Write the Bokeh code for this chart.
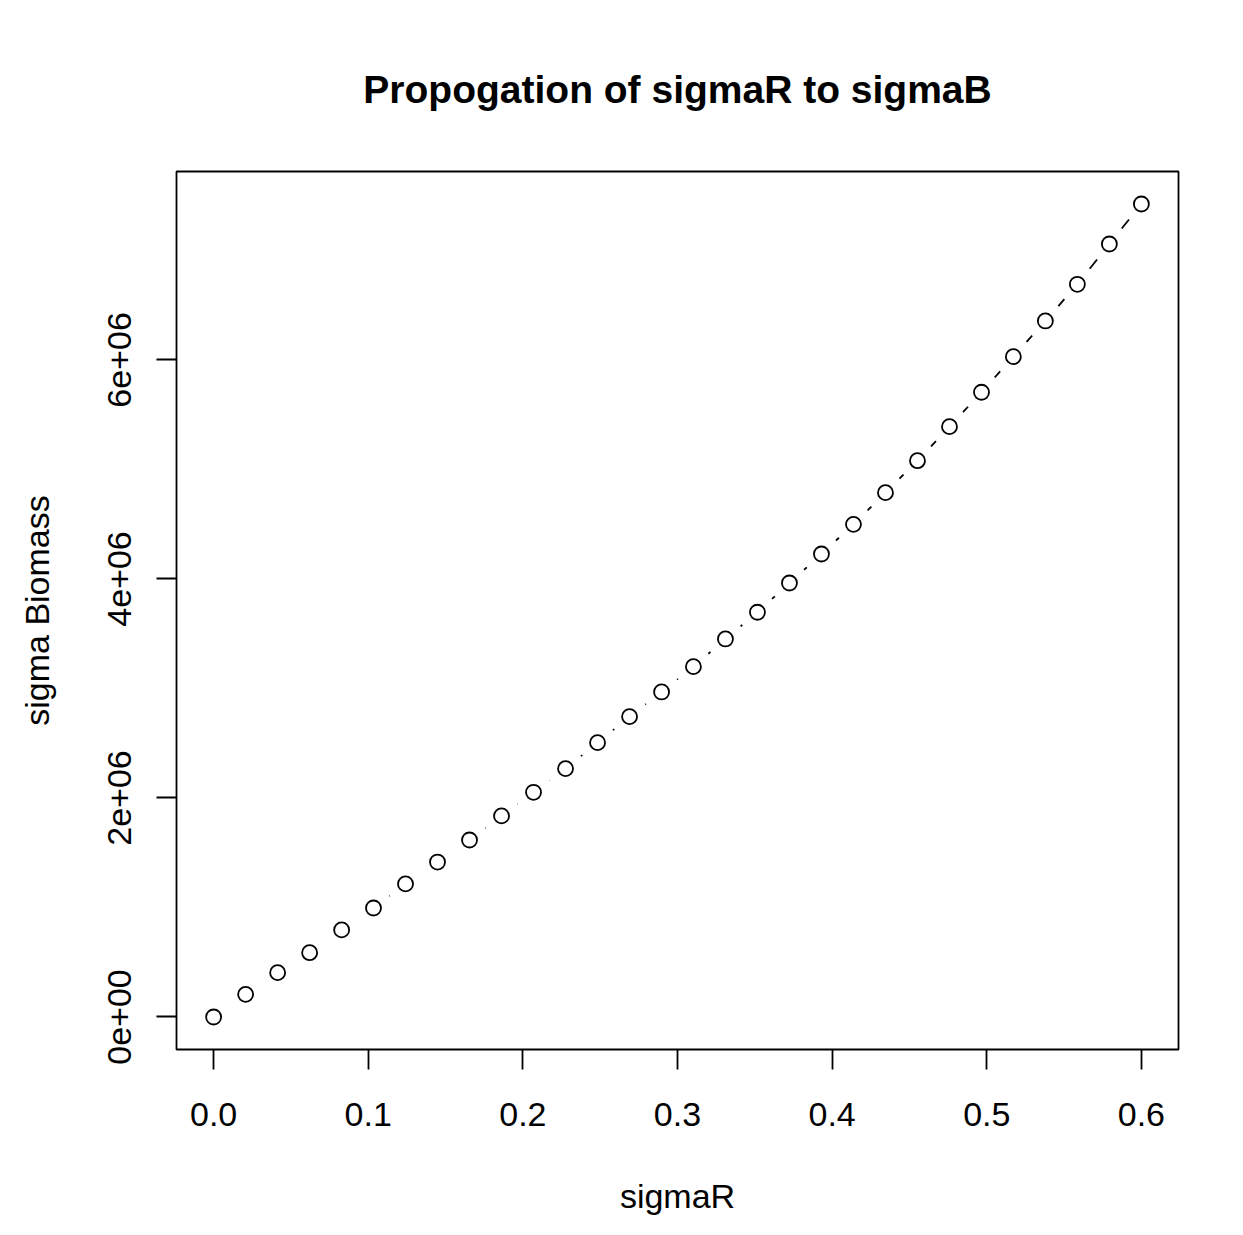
import numpy as np
from bokeh.plotting import figure
from bokeh.models import FixedTicker, ColumnDataSource
from bokeh.embed import file_html
from bokeh.resources import INLINE

# ---- data ----
sigma_r = [0.0000, 0.0207, 0.0414, 0.0621, 0.0828, 0.1034, 0.1241, 0.1448, 0.1655, 0.1862,
           0.2069, 0.2276, 0.2483, 0.2690, 0.2897, 0.3103, 0.3310, 0.3517, 0.3724, 0.3931,
           0.4138, 0.4345, 0.4552, 0.4759, 0.4966, 0.5172, 0.5379, 0.5586, 0.5793, 0.6000]
sigma_b = [0.000e6, 0.207e6, 0.405e6, 0.587e6, 0.795e6, 0.995e6, 1.215e6, 1.415e6, 1.616e6, 1.836e6,
           2.052e6, 2.268e6, 2.505e6, 2.743e6, 2.968e6, 3.199e6, 3.452e6, 3.696e6, 3.963e6, 4.228e6,
           4.499e6, 4.788e6, 5.080e6, 5.391e6, 5.705e6, 6.030e6, 6.356e6, 6.691e6, 7.059e6, 7.424e6]
x_ticks = [0.0, 0.1, 0.2, 0.3, 0.4, 0.5, 0.6]
x_tick_labels = ["0.0", "0.1", "0.2", "0.3", "0.4", "0.5", "0.6"]
y_ticks = [0, 2e6, 4e6, 6e6]
y_tick_labels = ["0e+00", "2e+06", "4e+06", "6e+06"]
title_text = "Propogation of sigmaR to sigmaB"
x_label = "sigmaR"
y_label = "sigma Biomass"

FONT = "Liberation Sans"
W, H = 1243, 1235
BL, BR, BT, BB = 176, 65, 171, 186

# R-style 4% range extension
xr = (min(sigma_r), max(sigma_r))
yr = (min(sigma_b), max(sigma_b))
xpad = 0.04 * (xr[1] - xr[0])
ypad = 0.04 * (yr[1] - yr[0])
x0, x1 = xr[0] - xpad, xr[1] + xpad
y0, y1 = yr[0] - ypad, yr[1] + ypad

p = figure(width=W, height=H, output_backend="svg", toolbar_location=None,
           x_range=(x0, x1), y_range=(y0, y1),
           min_border_left=BL, min_border_right=BR, min_border_top=BT, min_border_bottom=BB,
           background_fill_color="white", border_fill_color="white")

# type="b" style dashed segments with gaps around the points
fw = W - BL - BR
fh = H - BT - BB
sx = fw / (x1 - x0)
sy = fh / (y1 - y0)
gap = 19.8
xs = np.array(sigma_r)
ys = np.array(sigma_b)
sx0, sy0, sx1, sy1 = [], [], [], []
for i in range(len(xs) - 1):
    dxp = (xs[i + 1] - xs[i]) * sx
    dyp = (ys[i + 1] - ys[i]) * sy
    d = float(np.hypot(dxp, dyp))
    if d > 2 * gap:
        t0 = gap / d
        t1 = 1 - gap / d
        sx0.append(xs[i] + t0 * (xs[i + 1] - xs[i]))
        sy0.append(ys[i] + t0 * (ys[i + 1] - ys[i]))
        sx1.append(xs[i] + t1 * (xs[i + 1] - xs[i]))
        sy1.append(ys[i] + t1 * (ys[i + 1] - ys[i]))
p.segment(x0=sx0, y0=sy0, x1=sx1, y1=sy1, line_color="black", line_width=1.8, line_dash="15 10")

src = ColumnDataSource(dict(x=sigma_r, y=sigma_b))
p.scatter("x", "y", source=src, marker="circle", size=15, fill_alpha=0,
          line_color="black", line_width=1.8)

# frame / box
p.outline_line_color = "black"
p.outline_line_width = 1.8
p.xgrid.visible = False
p.ygrid.visible = False

# title
p.title.text = title_text
p.title.align = "center"
p.title.text_font = FONT
p.title.text_font_size = "39px"
p.title.text_font_style = "bold"
p.title.text_color = "black"
p.title.standoff = 121

# axes
for ax in (p.xaxis[0], p.yaxis[0]):
    ax.axis_line_color = None
    ax.major_tick_in = 0
    ax.major_tick_out = 20
    ax.major_tick_line_width = 1.8
    ax.major_tick_line_color = "black"
    ax.minor_tick_line_color = None
    ax.major_label_text_font = FONT
    ax.major_label_text_font_size = "34px"
    ax.major_label_text_color = "black"
    ax.axis_label_text_font = FONT
    ax.axis_label_text_font_size = "34px"
    ax.axis_label_text_font_style = "normal"
    ax.axis_label_text_color = "black"

p.xaxis[0].ticker = FixedTicker(ticks=x_ticks)
p.xaxis[0].major_label_overrides = {t: l for t, l in zip(x_ticks, x_tick_labels)}
p.xaxis[0].major_label_standoff = 33
p.xaxis[0].axis_label = x_label
p.xaxis[0].axis_label_standoff = 48

p.yaxis[0].ticker = FixedTicker(ticks=y_ticks)
p.yaxis[0].major_label_overrides = {t: l for t, l in zip(y_ticks, y_tick_labels)}
p.yaxis[0].major_label_orientation = "vertical"
p.yaxis[0].major_label_standoff = 25
p.yaxis[0].axis_label = y_label
p.yaxis[0].axis_label_standoff = 50

open("out.html", "w").write(file_html(p, INLINE))
